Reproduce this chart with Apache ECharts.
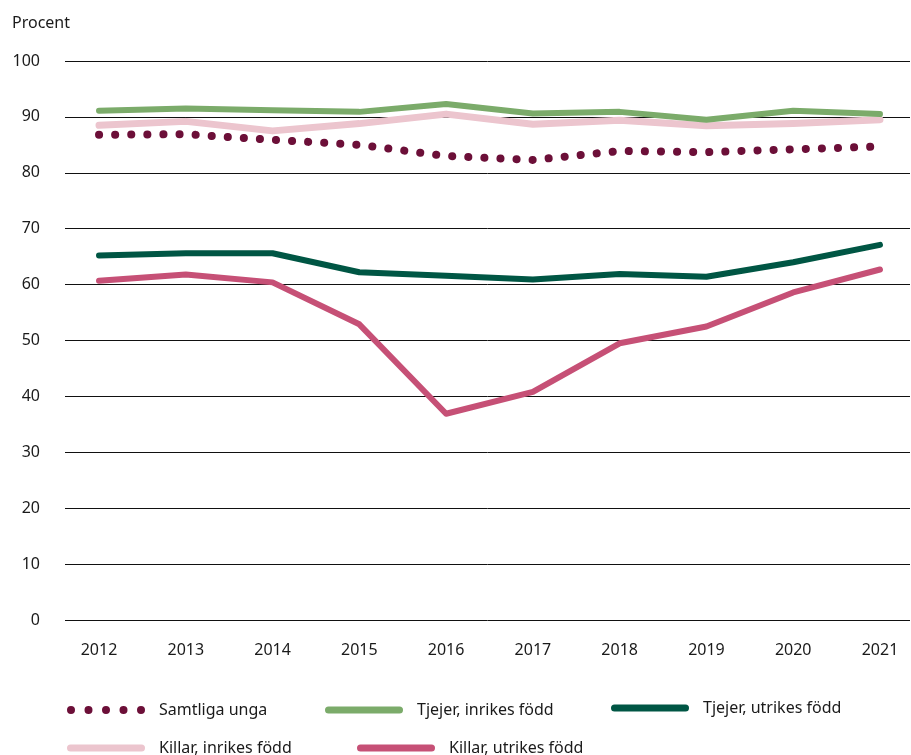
<!DOCTYPE html>
<html>
<head>
<meta charset="utf-8">
<script src="https://cdn.jsdelivr.net/npm/echarts@6/dist/echarts.min.js"></script>
<style>
  html, body { margin: 0; padding: 0; background: #fff; }
  #chart { width: 911px; height: 755px; }
</style>
</head>
<body>
<div id="chart"></div>
<script>
// data
const years = [2012, 2013, 2014, 2015, 2016, 2017, 2018, 2019, 2020, 2021];
const samtligaUnga = [86.8, 86.9, 85.9, 85.0, 83.0, 82.3, 83.9, 83.7, 84.2, 84.7];
const tjejerInrikes = [91.1, 91.5, 91.2, 90.9, 92.3, 90.6, 90.9, 89.5, 91.1, 90.5];
const tjejerUtrikes = [65.2, 65.6, 65.6, 62.2, 61.6, 60.9, 61.9, 61.4, 64.0, 67.1];
const killarInrikes = [88.5, 89.2, 87.5, 88.8, 90.5, 88.7, 89.4, 88.4, 88.8, 89.5];
const killarUtrikes = [60.7, 61.8, 60.4, 52.9, 36.9, 40.8, 49.5, 52.5, 58.6, 62.7];

const FONT = '"Noto Sans", "Open Sans", sans-serif';
const TEXT = '#1a1a1a';

// legend icons: a rounded bar, and five dots for the dotted series
const barIcon = 'path://M3.5,0L74.5,0A3.5,3.5 0 0 1 74.5,7L3.5,7A3.5,3.5 0 0 1 3.5,0Z';
const dotsIcon = 'path://' + [0, 1, 2, 3, 4].map(i => {
  const x = 4 + i * 17.5;
  return `M${x - 4},4A4,4 0 1 1 ${x + 4},4A4,4 0 1 1 ${x - 4},4Z`;
}).join('');

const chart = echarts.init(document.getElementById('chart'));

const pairs = (vals) => years.map((y, i) => [y, vals[i]]);

const seriesDefs = [
  { name: 'Samtliga unga', data: samtligaUnga, color: '#6c0f38', width: 8, dotted: true, z: 5 },
  { name: 'Tjejer, inrikes född', data: tjejerInrikes, color: '#7bab6a', width: 6, z: 4 },
  { name: 'Tjejer, utrikes född', data: tjejerUtrikes, color: '#005644', width: 6, z: 4 },
  { name: 'Killar, inrikes född', data: killarInrikes, color: '#ecc5ce', width: 7, z: 3 },
  { name: 'Killar, utrikes född', data: killarUtrikes, color: '#c65076', width: 6, z: 4 }
];

// one legend per entry, placed like the reference
const legendPos = [
  { left: 62, top: 697 },
  { left: 320, top: 697 },
  { left: 606, top: 695 },
  { left: 62, top: 735 },
  { left: 352, top: 735 }
];

const option = {
  backgroundColor: '#fff',
  animation: false,
  textStyle: { fontFamily: FONT },
  title: {
    text: 'Procent',
    left: 7,
    top: 10,
    textStyle: { fontFamily: FONT, fontSize: 16, fontWeight: 'normal', color: TEXT }
  },
  grid: { left: 65, right: 1, top: 61, bottom: 135 },
  legend: seriesDefs.map((s, i) => ({
    data: [{ name: s.name, icon: s.dotted ? dotsIcon : barIcon }],
    left: legendPos[i].left,
    top: legendPos[i].top,
    itemWidth: 78,
    itemHeight: s.dotted ? 8 : 7,
    symbolKeepAspect: false,
    itemStyle: { color: s.color, borderWidth: 0 },
    textStyle: { fontFamily: FONT, fontSize: 16, color: TEXT, padding: [0, 0, 0, 9] }
  })),
  xAxis: {
    type: 'value',
    min: 2011.608,
    max: 2021.346,
    axisLine: { show: false },
    axisTick: { show: false },
    splitLine: { show: false },
    axisLabel: {
      customValues: years,
      margin: 22,
      fontFamily: FONT,
      fontSize: 16,
      color: TEXT,
      formatter: (v) => String(v)
    }
  },
  yAxis: {
    type: 'value',
    min: 0,
    max: 100,
    interval: 10,
    axisLine: { show: false },
    axisTick: { show: false },
    axisLabel: { margin: 25, fontFamily: FONT, fontSize: 16, color: TEXT },
    splitLine: { lineStyle: { color: '#111', width: 1 } }
  },
  series: seriesDefs.map(s => ({
    name: s.name,
    type: 'line',
    data: pairs(s.data),
    showSymbol: false,
    symbol: 'none',
    z: s.z,
    itemStyle: { color: s.color },
    lineStyle: s.dotted
      ? { color: s.color, width: s.width, type: [0.1, 16], cap: 'round' }
      : { color: s.color, width: s.width, cap: 'round', join: 'round' }
  }))
};

chart.setOption(option);
</script>
</body>
</html>
